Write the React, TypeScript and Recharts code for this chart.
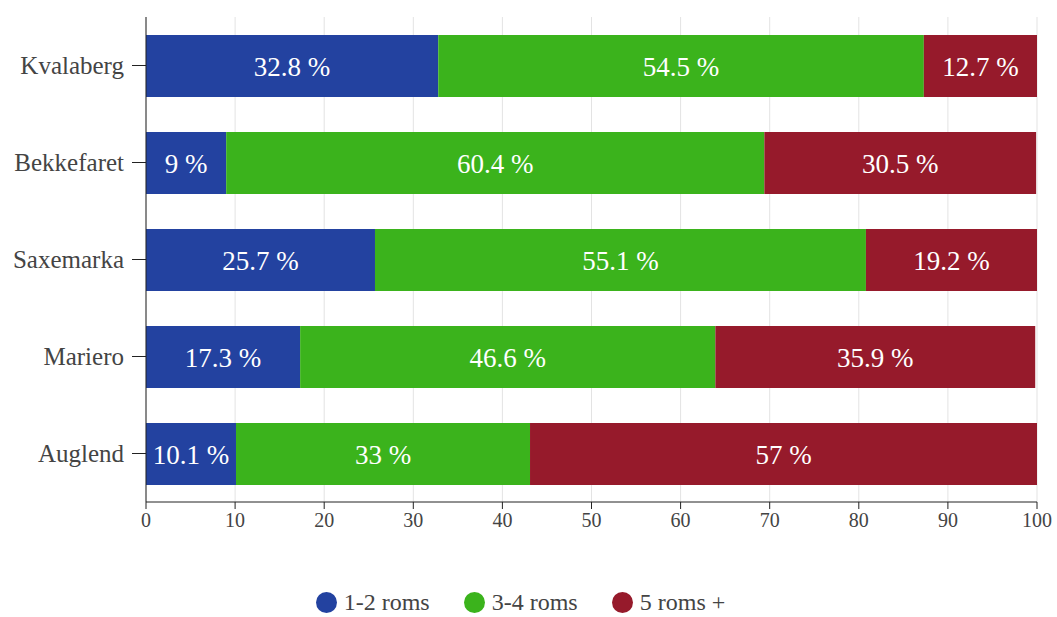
import { Bar, BarChart, CartesianGrid, LabelList, Legend, XAxis, YAxis } from 'recharts';

const areas = ['Kvalaberg', 'Bekkefaret', 'Saxemarka', 'Mariero', 'Auglend'];
const small = [32.8, 9, 25.7, 17.3, 10.1];
const medium = [54.5, 60.4, 55.1, 46.6, 33];
const large = [12.7, 30.5, 19.2, 35.9, 57];
const xTicks = [0, 10, 20, 30, 40, 50, 60, 70, 80, 90, 100];

const series = [
  { key: 'small', name: '1-2 roms', color: '#2342a0' },
  { key: 'medium', name: '3-4 roms', color: '#3bb31c' },
  { key: 'large', name: '5 roms +', color: '#961a2b' },
];

const data = areas.map((area, i) => ({
  area,
  small: small[i],
  medium: medium[i],
  large: large[i],
}));

const FONT = '"Liberation Serif", "DejaVu Serif", serif';

function LegendRow() {
  return (
    <div style={{ display: 'flex', justifyContent: 'center', gap: 34, fontFamily: FONT, fontSize: 24, lineHeight: '22px', color: '#444', marginLeft: 4 }}>
      {series.map((s) => (
        <span key={s.key} style={{ display: 'flex', alignItems: 'center' }}>
          <span style={{ width: 21, height: 21, borderRadius: 11, background: s.color, display: 'inline-block', marginRight: 7 }} />
          {s.name}
        </span>
      ))}
    </div>
  );
}

export default function App() {
  return (
    <div style={{ position: 'fixed', left: 0, top: 0, background: '#fff', fontFamily: FONT }}>
      <style>{`svg text, .recharts-legend-wrapper, .recharts-legend-wrapper span { font-family: ${FONT} !important; }`}</style>
      <BarChart
        width={1057}
        height={617}
        data={data}
        layout="vertical"
        barSize={62}
        margin={{ top: 17, right: 20, bottom: 0, left: 0 }}
      >
        <CartesianGrid horizontal={false} stroke="#e3e3e3" />
        <XAxis
          type="number"
          domain={[0, 100]}
          ticks={xTicks}
          allowDataOverflow
          tickSize={7}
          tickMargin={4}
          height={40}
          stroke="#222"
          tick={{ fill: '#444', fontSize: 20, fontFamily: FONT }}
        />
        <YAxis
          type="category"
          dataKey="area"
          width={146}
          tickSize={14}
          tickMargin={8}
          stroke="#222"
          tick={{ fill: '#444', fontSize: 25, fontFamily: FONT }}
        />
        <Legend verticalAlign="bottom" height={75} content={() => <div style={{ paddingTop: 49 }}><LegendRow /></div>} />
        {series.map((s) => (
          <Bar key={s.key} dataKey={s.key} name={s.name} stackId="a" fill={s.color} isAnimationActive={false}>
            <LabelList
              dataKey={s.key}
              position="center"
              fill="#fff"
              fontSize={27}
              fontFamily={FONT}
              formatter={(v: number) => `${v} %`}
            />
          </Bar>
        ))}
      </BarChart>
    </div>
  );
}
